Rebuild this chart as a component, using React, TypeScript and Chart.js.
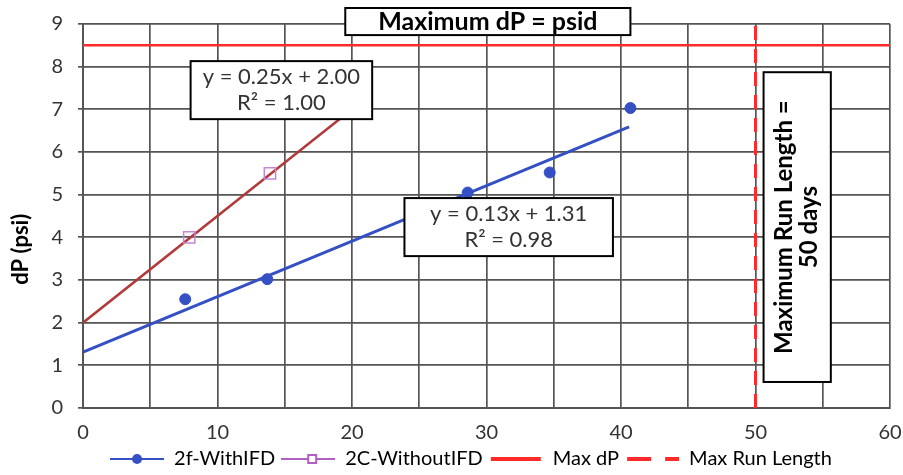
import React, { useEffect, useRef } from 'react';
import { Chart, registerables } from 'chart.js';

Chart.register(...registerables);

// ---- data ----
const withIfdDays = [7.6, 13.7, 28.6, 34.7, 40.7];
const withIfdDp = [2.55, 3.02, 5.05, 5.52, 7.03];
const withoutIfdDays = [7.9, 13.9];
const withoutIfdDp = [4.0, 5.5];
const withIfdTrendDays = [0, 40.6];
const withIfdTrendDp = [1.31, 6.59];
const withoutIfdTrendDays = [0, 20];
const withoutIfdTrendDp = [2.0, 7.0];
const maxDpDays = [0, 60];
const maxDpValues = [8.5, 8.5];
const maxRunDays = [50, 50];
const maxRunDp = [0, 9];
const seriesNames = ['2f-WithIFD', '2C-WithoutIFD', 'Max dP', 'Max Run Length'];
const xRange = [0, 60];
const yRange = [0, 9];
const yAxisTitle = 'dP (psi)';

// annotation text boxes, placed in data coordinates
const annotationTexts = [
  ['Maximum dP = psid'],
  ['y = 0.25x + 2.00', 'R² = 1.00'],
  ['y = 0.13x + 1.31', 'R² = 0.98'],
  ['Maximum Run Length =', '50 days'],
];

const FONT = 'Lato, "Open Sans", sans-serif';

const annotationBoxes = [
  { text: 0, x0: 19.5, x1: 40.7, y0: 8.74, y1: 9.375, bold: true, size: 25, rotate: false, gap: 26 },
  { text: 1, x0: 8.0, x1: 21.5, y0: 6.77, y1: 8.13, bold: false, size: 22, rotate: false, gap: 26 },
  { text: 2, x0: 23.9, x1: 39.4, y0: 3.56, y1: 4.92, bold: false, size: 22, rotate: false, gap: 26 },
  { text: 3, x0: 50.6, x1: 55.6, y0: 0.61, y1: 7.87, bold: true, size: 24, rotate: true, gap: 25 },
];
// y-axis title anchor (data value along y where the title is centred)
const yTitleAt = 3.72;

const toPoints = (xs: number[], ys: number[]) => xs.map((x, i) => ({ x, y: ys[i] }));

const BLUE = '#3450c4';
const PURPLE = '#c485d2';
const BROWN = '#b23a3a';
const RED = '#ff2a2a';
const ICON_W = 54;

function makeIcon(kind: number): HTMLCanvasElement {
  const c = document.createElement('canvas');
  c.width = ICON_W;
  c.height = 14;
  const g = c.getContext('2d')!;
  const cy = 7;
  const mid = ICON_W / 2;
  if (kind === 0) {
    g.strokeStyle = BLUE; g.lineWidth = 2;
    g.beginPath(); g.moveTo(0, cy); g.lineTo(ICON_W, cy); g.stroke();
    g.fillStyle = BLUE; g.beginPath(); g.arc(mid, cy, 5, 0, Math.PI * 2); g.fill();
  } else if (kind === 1) {
    g.strokeStyle = '#b060c0'; g.lineWidth = 2;
    g.beginPath(); g.moveTo(0, cy); g.lineTo(ICON_W, cy); g.stroke();
    g.fillStyle = '#fff'; g.fillRect(mid, cy - 4, 8, 8);
    g.lineWidth = 2; g.strokeRect(mid, cy - 4, 8, 8);
  } else if (kind === 2) {
    g.strokeStyle = RED; g.lineWidth = 4;
    g.beginPath(); g.moveTo(2, cy); g.lineTo(ICON_W - 2, cy); g.stroke();
  } else {
    g.strokeStyle = RED; g.lineWidth = 4;
    g.setLineDash([24, 14]);
    g.beginPath(); g.moveTo(2, cy); g.lineTo(ICON_W, cy); g.stroke();
  }
  return c;
}

const annotationPlugin = {
  id: 'boxAnnotations',
  afterLayout(chart: any) {
    const lg = chart.legend;
    if (lg) { lg.left += 26; lg.right += 26; }
  },
  afterDatasetsDraw(chart: any) {
    const { ctx } = chart;
    const x = chart.scales.x;
    const y = chart.scales.y;
    annotationBoxes.forEach((a) => {
      const left = x.getPixelForValue(a.x0);
      const right = x.getPixelForValue(a.x1);
      const top = y.getPixelForValue(a.y1);
      const bottom = y.getPixelForValue(a.y0);
      ctx.save();
      ctx.fillStyle = '#ffffff';
      ctx.fillRect(left, top, right - left, bottom - top);
      ctx.lineWidth = 2;
      ctx.strokeStyle = '#000';
      ctx.strokeRect(left, top, right - left, bottom - top);
      ctx.font = `${a.bold ? 'bold ' : ''}${a.size}px ${FONT}`;
      ctx.fillStyle = a.bold ? '#000' : '#333';
      ctx.textAlign = 'center';
      ctx.textBaseline = 'middle';
      ctx.translate((left + right) / 2, (top + bottom) / 2);
      if (a.rotate) ctx.rotate(-Math.PI / 2);
      const lines = annotationTexts[a.text];
      const n = lines.length;
      lines.forEach((t, i) => ctx.fillText(t, 0, (i - (n - 1) / 2) * a.gap));
      ctx.restore();
    });
    // y-axis title
    ctx.save();
    ctx.font = `bold 22px ${FONT}`;
    ctx.fillStyle = '#000';
    ctx.textAlign = 'center';
    ctx.textBaseline = 'middle';
    ctx.translate(y.left + 21, y.getPixelForValue(yTitleAt));
    ctx.rotate(-Math.PI / 2);
    ctx.fillText(yAxisTitle, 0, 0);
    ctx.restore();
  },
};

export default function App() {
  const ref = useRef<HTMLCanvasElement>(null);

  useEffect(() => {
    if (!ref.current) return;
    const icons = [0, 1, 2, 3].map(makeIcon);
    const chart = new Chart(ref.current, {
      type: 'scatter',
      data: {
        datasets: [
          {
            label: seriesNames[0],
            data: toPoints(withIfdDays, withIfdDp),
            showLine: false,
            pointStyle: 'circle',
            pointRadius: 5.5,
            backgroundColor: BLUE,
            borderColor: BLUE,
          },
          {
            label: seriesNames[1],
            data: toPoints(withoutIfdDays, withoutIfdDp),
            showLine: false,
            pointStyle: 'rect',
            pointRadius: 8,
            backgroundColor: 'rgba(255,255,255,0)',
            borderColor: PURPLE,
            borderWidth: 1.5,
          },
          {
            label: 'trend-with',
            data: toPoints(withIfdTrendDays, withIfdTrendDp),
            showLine: true,
            pointRadius: 0,
            borderColor: BLUE,
            borderWidth: 3,
          },
          {
            label: 'trend-without',
            data: toPoints(withoutIfdTrendDays, withoutIfdTrendDp),
            showLine: true,
            pointRadius: 0,
            borderColor: BROWN,
            borderWidth: 2.5,
          },
          {
            label: seriesNames[2],
            data: toPoints(maxDpDays, maxDpValues),
            showLine: true,
            pointRadius: 0,
            borderColor: RED,
            borderWidth: 2.5,
          },
          {
            label: seriesNames[3],
            data: toPoints(maxRunDays, maxRunDp),
            showLine: true,
            pointRadius: 0,
            borderColor: RED,
            borderWidth: 3,
            borderDash: [14, 9],
          },
        ],
      },
      options: {
        responsive: false,
        animation: false,
        layout: { padding: { left: 0, right: 13, top: 24, bottom: -4 } },
        scales: {
          x: {
            type: 'linear',
            min: xRange[0],
            max: xRange[1],
            afterFit: (s: any) => { s.height = 35; s.paddingLeft = 0; s.paddingRight = 0; },
            ticks: {
              stepSize: 5,
              autoSkip: false,
              maxRotation: 0,
              padding: 0,
              color: '#333',
              font: { family: FONT, size: 20 },
              callback: (v: any) => (Number(v) % 10 === 0 ? String(v) : ''),
            },
            grid: { color: '#555', lineWidth: 1.7, tickLength: 13, tickColor: 'rgba(0,0,0,0)' },
            border: { display: true, color: '#555', width: 2 },
          },
          y: {
            type: 'linear',
            min: yRange[0],
            max: yRange[1],
            afterFit: (s: any) => { s.width = 83; s.paddingTop = 0; s.paddingBottom = 0; },
            ticks: {
              stepSize: 1,
              padding: 15,
              color: '#333',
              font: { family: FONT, size: 20 },
            },
            grid: { color: '#555', lineWidth: 1.7, tickLength: 5 },
            border: { display: true, color: '#555', width: 2 },
          },
        },
        plugins: {
          tooltip: { enabled: false },
          legend: {
            position: 'bottom',
            labels: {
              usePointStyle: true,
              pointStyleWidth: ICON_W,
              padding: 6,
              color: '#333',
              font: { family: FONT, size: 20 },
              generateLabels: () =>
                seriesNames.map((name, i) => ({
                  text: name,
                  pointStyle: icons[i] as any,
                  fillStyle: 'transparent',
                  strokeStyle: 'transparent',
                  lineWidth: 0,
                  hidden: false,
                  datasetIndex: i < 2 ? i : i + 2,
                })),
            },
          },
        },
      } as any,
      plugins: [annotationPlugin],
    });
    return () => chart.destroy();
  }, []);

  return (
    <div style={{ position: 'fixed', left: 0, top: 0, width: 903, height: 475, background: '#fff' }}>
      <canvas ref={ref} width={903} height={475} style={{ width: 903, height: 475 }} />
    </div>
  );
}
